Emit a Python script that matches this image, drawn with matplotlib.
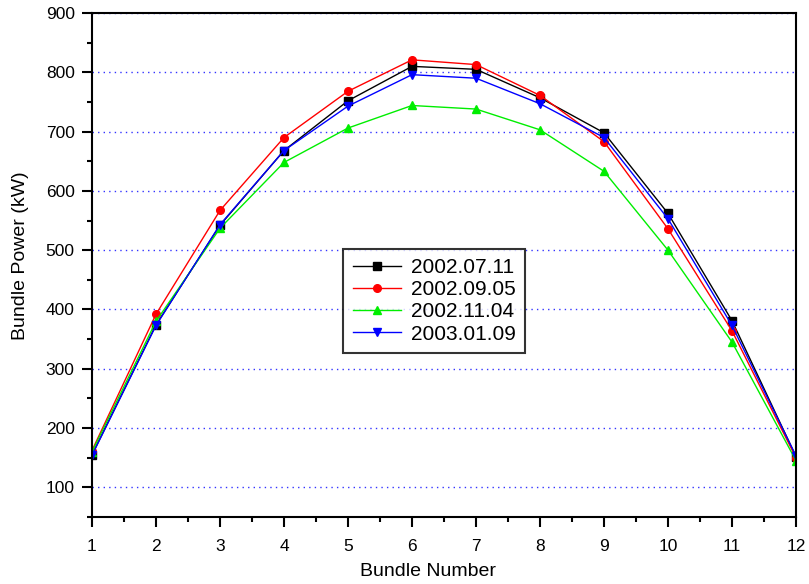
#!/usr/bin/env python3
"""Bundle power profile for four measurement dates."""

import matplotlib
matplotlib.use("Agg")
import matplotlib.pyplot as plt
from matplotlib.ticker import MultipleLocator

BUNDLES = [1, 2, 3, 4, 5, 6, 7, 8, 9, 10, 11, 12]

P_20020711 = [155, 374, 542, 668, 752, 810, 805, 757, 698, 562, 381, 152]
P_20020905 = [162, 392, 567, 690, 768, 821, 813, 761, 683, 536, 364, 150]
P_20021104 = [160, 380, 537, 648, 706, 744, 738, 703, 633, 500, 345, 145]
P_20030109 = [154, 373, 543, 668, 743, 796, 790, 747, 690, 553, 373, 153]

SERIES = [
    ("2002.07.11", P_20020711, "black", "s"),
    ("2002.09.05", P_20020905, "red", "o"),
    ("2002.11.04", P_20021104, "#00ee00", "^"),
    ("2003.01.09", P_20030109, "blue", "v"),
]

plt.rcParams["font.family"] = ["Liberation Sans", "DejaVu Sans"]

fig = plt.figure(figsize=(8.09, 5.84), dpi=100)
ax = fig.add_axes([92 / 809, 1 - 517 / 584, 704 / 809, 504 / 584])

for label, vals, color, marker in SERIES:
    ax.plot(BUNDLES, vals, color=color, marker=marker, markersize=5.5,
            linewidth=1.0, label=label)

ax.set_xlim(1, 12)
ax.set_ylim(50, 900)
ax.xaxis.set_major_locator(MultipleLocator(1))
ax.xaxis.set_minor_locator(MultipleLocator(0.5))
ax.yaxis.set_major_locator(MultipleLocator(100))
ax.yaxis.set_minor_locator(MultipleLocator(50))

ax.tick_params(which="both", direction="out", labelsize=12.5, width=1.5,
               top=False, right=False)
ax.tick_params(which="major", length=7.5)
ax.tick_params(axis="y", which="major", pad=5)
ax.tick_params(axis="x", which="major", pad=8)
ax.tick_params(which="minor", length=3.5)
for sp in ax.spines.values():
    sp.set_linewidth(1.5)

ax.yaxis.grid(True, which="major", color="blue", linestyle=(0, (1, 3)),
              linewidth=1.0, alpha=0.8)
ax.set_axisbelow(True)

ax.set_xlabel("Bundle Number", fontsize=14)
ax.set_ylabel("Bundle Power (kW)", fontsize=14)
ax.xaxis.set_label_coords(0.477, -0.091)
ax.yaxis.set_label_coords(-0.089, 0.518)

leg = ax.legend(loc="upper left", bbox_to_anchor=(0.357, 0.532),
                fontsize=15, frameon=True, fancybox=False,
                handlelength=2.3, borderpad=0.45, labelspacing=0.15,
                handletextpad=0.5, borderaxespad=0)
leg.get_frame().set_edgecolor("black")
leg.get_frame().set_linewidth(1.5)

fig.savefig("out.png", dpi=100)
plt.close(fig)
